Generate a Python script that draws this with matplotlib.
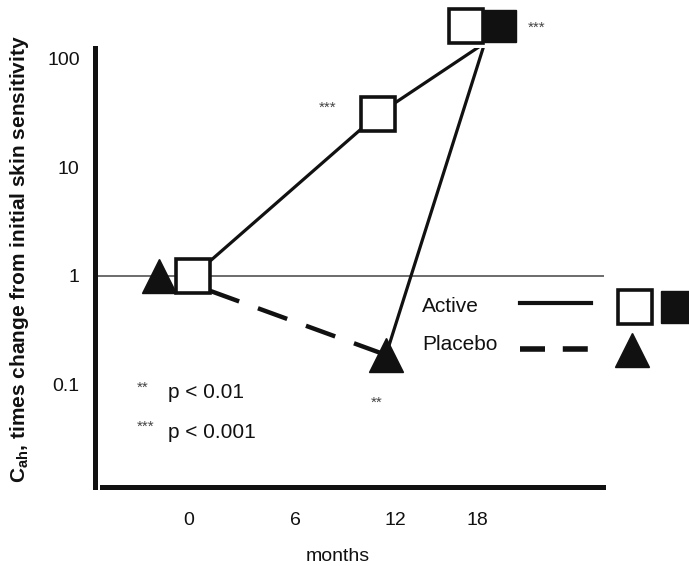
import matplotlib
matplotlib.use("Agg")
import matplotlib.pyplot as plt

plt.rcParams["font.family"] = ["Liberation Sans", "DejaVu Sans"]
plt.rcParams["mathtext.fontset"] = "custom"
plt.rcParams["mathtext.rm"] = "Liberation Sans"
plt.rcParams["mathtext.bf"] = "Liberation Sans:bold"

# x ticks (labels are not evenly spaced in the original)
xtick_pos = [0, 6.33, 12.19, 17.04]
xtick_labels = ["0", "6", "12", "18"]
ytick_vals = [0.1, 1, 10, 100]
ytick_labels = ["0.1", "1", "10", "100"]

# Active: open squares, then filled square at the end
active_x = [0.24, 11.2, 16.4]
active_y = [1.0, 31.0, 200.0]
active_filled_x = [18.4]
active_filled_y = [200.0]

# solid line path (through the squares, down to the 12 month triangle)
solid_x = [0.24, 11.2, 17.5, 11.66]
solid_y = [1.0, 31.0, 140.0, 0.187]

# Placebo: triangles and dashed line
placebo_x = [-1.77, 11.66]
placebo_y = [1.0, 0.187]
dashed_x = [1.24, 11.66]
dashed_y = [0.73, 0.187]

BLACK = "#111111"

fig = plt.figure(figsize=(6.89, 5.66), dpi=100)
ax = fig.add_axes([95 / 689, 1 - 487 / 566, 509 / 689, 439 / 566])
ax.set_yscale("log")
ax.set_xlim(-5.56, 24.56)
ax.set_ylim(0.01135, 126)

# reference line at 1
ax.axhline(1, color="#444444", lw=1.1, zorder=1)

ax.plot(solid_x, solid_y, color=BLACK, lw=2.3, zorder=2)
ax.plot(dashed_x, dashed_y, color=BLACK, lw=3.2, dashes=(7, 4.5), zorder=2)

ax.plot(active_x, active_y, ls="none", marker="s", ms=24, mfc="white",
        mec=BLACK, mew=2.6, zorder=4, clip_on=False)
ax.plot(active_filled_x, active_filled_y, ls="none", marker="s", ms=23,
        mfc=BLACK, mec=BLACK, zorder=4, clip_on=False)
ax.plot(placebo_x, placebo_y, ls="none", marker="^", ms=25, color=BLACK,
        zorder=3, clip_on=False)

# significance stars
ax.text(8.22, 35.3, "***", fontsize=11, color="#444444", ha="center", va="center")
ax.text(20.6, 193, "***", fontsize=11, color="#444444", ha="center", va="center")
ax.text(11.12, 0.0675, "**", fontsize=11, color="#444444", ha="center", va="center")

ax.text(-3.08, 0.093, "**", fontsize=11, color="#444444", ha="left", va="center")
ax.text(-1.24, 0.0835, "p < 0.01", fontsize=15, color=BLACK, ha="left", va="center")
ax.text(-3.08, 0.0406, "***", fontsize=11, color="#444444", ha="left", va="center")
ax.text(-1.24, 0.0357, "p < 0.001", fontsize=15, color=BLACK, ha="left", va="center")

# hand made legend
ax.text(13.79, 0.518, "Active", fontsize=15, color=BLACK, ha="left", va="center")
ax.text(13.79, 0.231, "Placebo", fontsize=15, color=BLACK, ha="left", va="center")
ax.plot([19.59, 23.79], [0.564, 0.564], color=BLACK, lw=3, clip_on=False)
ax.plot([19.59, 23.67], [0.212, 0.212], color=BLACK, lw=4, dashes=(4.5, 3.2),
        clip_on=False)
ax.plot([26.39], [0.518], ls="none", marker="s", ms=24, mfc="white", mec=BLACK,
        mew=2.6, clip_on=False)
ax.plot([28.88], [0.518], ls="none", marker="s", ms=23, color=BLACK, clip_on=False)
ax.plot([26.2], [0.208], ls="none", marker="^", ms=24, color=BLACK, clip_on=False)

# axes look
ax.spines["top"].set_visible(False)
ax.spines["right"].set_visible(False)
ax.spines["left"].set_linewidth(3.6)
ax.spines["left"].set_color(BLACK)
ax.spines["bottom"].set_linewidth(3.6)
ax.spines["bottom"].set_color(BLACK)
ax.spines["bottom"].set_bounds(-5.15, 24.5)

ax.set_xticks(xtick_pos)
ax.set_xticklabels(xtick_labels)
ax.set_yticks(ytick_vals)
ax.set_yticklabels(ytick_labels)
ax.minorticks_off()
ax.tick_params(axis="x", length=0, pad=18, labelsize=14, labelcolor=BLACK)
ax.tick_params(axis="y", length=0, pad=11, labelsize=14, labelcolor=BLACK)

fig.text(338 / 689, 1 - 565 / 566, "months", fontsize=14, color=BLACK,
         ha="center", va="bottom")
fig.text(20 / 689, 1 - 259 / 566,
         r"C$_{\mathbf{ah}}$, times change from initial skin sensitivity",
         fontsize=15, fontweight="bold", color=BLACK, rotation=90,
         ha="center", va="center")

fig.savefig("out.png", dpi=100)
